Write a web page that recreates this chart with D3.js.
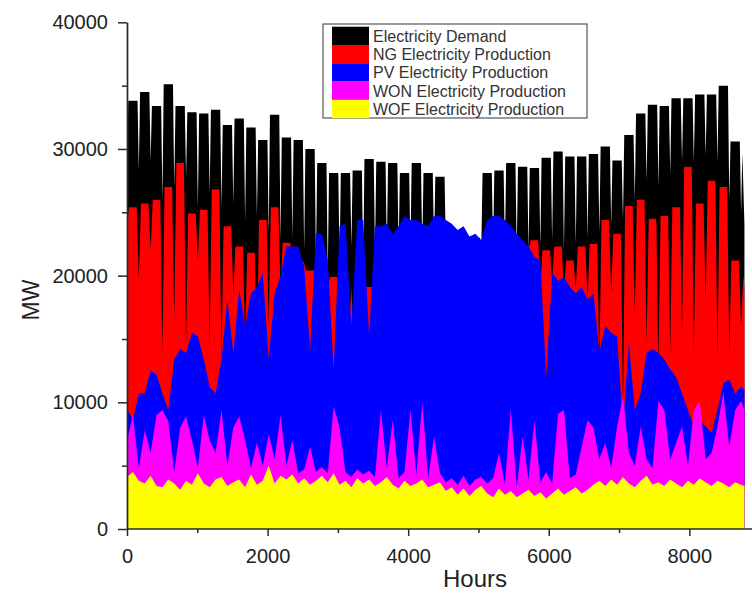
<!DOCTYPE html>
<html><head><meta charset="utf-8">
<script src="https://cdn.jsdelivr.net/npm/d3@7"></script>
<style>
body{margin:0;background:#fff}
svg{display:block}
text{font-family:"Liberation Sans",Arial,Helvetica,sans-serif}
</style>
</head><body>
<svg id="chart" width="752" height="593"></svg>
<script>
// ---- Data (MW) ----
const weekHours = 168;
const yearEnd = 8784;
// Electricity demand: weekly envelope peak and weekend trough at the start of each week
const demandPeak = [33800, 34500, 33400, 35100, 33400, 32900, 32800, 33100, 31900, 32400,
  31700, 30700, 32700, 30900, 30700, 30000, 28900, 28100, 28100, 28300,
  29200, 29000, 28900, 28100, 28900, 28100, 27800, 23000, 23000, 23000,
  28100, 28300, 28900, 28600, 28500, 29300, 29800, 29400, 29400, 29600,
  30200, 29100, 31100, 32800, 33500, 33400, 34000, 34000, 34300, 34300,
  35000, 30600, 29700];
const demandTrough = [27000, 28300, 29100, 26000, 27000, 27800, 25400, 26500, 25400, 25700,
  24400, 24700, 23300, 22800, 23000, 22000, 21200, 20200, 21200, 22300,
  20200, 21800, 22000, 22000, 22000, 22000, 22000, 22000, 22000, 22000,
  22000, 22000, 22000, 22000, 22000, 22300, 22800, 22000, 22500, 23000,
  23400, 24000, 24400, 26000, 27500, 27000, 28000, 29000, 29000, 29500,
  29000, 26000, 25000];
const demandEnd = 24000;

// NG production: weekly envelope high and the weekend dip at the start of each week
const ngWeekHigh = [25400, 25700, 26000, 27000, 28900, 24900, 25200, 26800, 23900, 22300,
  21800, 24400, 25400, 22600, 21200, 20400, 18000, 19900, 16000, 15000,
  19100, 13000, 14000, 12000, 11000, 11000, 12000, 11000, 11000, 11000,
  11000, 13000, 14000, 20000, 22800, 22000, 22300, 21200, 22300, 22500,
  24400, 23300, 25500, 26000, 24500, 24700, 25400, 28600, 25700, 27500,
  27000, 21200, 20000];
const ngWeekDip = [24000, 19700, 22000, 13900, 16500, 14700, 21200, 14400, 13400, 18600,
  14700, 13400, 16000, 18600, 21500, 21000, 19000, 19000, 17000, 19100,
  14000, 14000, 13000, 12000, 11000, 12000, 12000, 12000, 12000, 12000,
  12000, 12000, 13000, 16000, 22000, 19000, 19500, 18500, 19000, 18000,
  12800, 18600, 9400, 17000, 14700, 12800, 13900, 15500, 13900, 18100,
  13400, 13900, 16000];
const ngEnd = 19000;

// PV, WON, WOF production envelopes sampled every half week (84 h), last sample at year end
const sampleHours = d3.range(0, 8737, 84).concat([yearEnd]);
const pvProd = [9500, 8600, 10700, 10700, 12500, 12200, 10700, 9400, 13400, 14200, 13900, 15500, 15200, 13400, 11200, 10700, 13400, 18100, 13900, 18900, 16000, 18600, 19100, 20200, 13400, 18600, 20000,
  22300, 22300, 22300, 20700, 14100, 23300, 23300, 21200, 12500, 23900, 24100, 16000, 24400, 24400, 15200, 23900, 23900, 24100, 23300, 23900, 24700, 24400, 24400, 24100, 23900, 24700, 24700,
  24400, 24100, 23600, 23900, 23100, 23300, 22800, 24400, 24700, 24700, 24400, 23900, 23300, 22800, 22300, 21500, 21200, 12000, 20200, 19600, 19900, 19100, 18600, 19100, 18100, 18600,
  14000, 16000, 15500, 15200, 8100, 14700, 9400, 10700, 13900, 14200, 13900, 13400, 12600, 12000, 10700, 9400, 8100, 8600, 8100, 7600, 9400, 11500, 11800, 10700, 11200, 11000];
const wonProd = [7000, 9000, 4800, 7800, 6000, 9000, 9400, 8500, 4500, 8000, 8900, 7000, 4800, 9000, 7000, 6000, 9400, 5000, 8000, 8900, 7000, 4800, 6800, 5000, 7500, 5500, 9000,
  5000, 7000, 4400, 4700, 6500, 4500, 4900, 4400, 9700, 8000, 4500, 4100, 4700, 4300, 4600, 4100, 9400, 4800, 8600, 4000, 4500, 9400, 4300, 10000, 4000, 7300, 4400,
  3700, 4000, 3500, 4200, 3400, 3900, 4100, 3600, 4000, 6000, 3500, 9500, 3300, 7300, 3900, 8600, 3700, 4500, 3600, 9100, 9400, 4000, 4300, 6500, 8600, 8000,
  5500, 6800, 4800, 8100, 10500, 6000, 5000, 8100, 5500, 4800, 10100, 9400, 5500, 6800, 8100, 5000, 9400, 10100, 5500, 6000, 8100, 10800, 6500, 9400, 10100, 9400];
const wofProd = [4100, 4500, 3800, 3600, 4200, 3400, 3300, 3900, 3600, 3100, 3800, 3500, 4400, 3600, 3300, 3900, 4100, 3400, 3700, 3900, 3300, 4300, 3500, 3800, 5000, 3600, 4200,
  3900, 4300, 3600, 4000, 3500, 3800, 4200, 3700, 4400, 3500, 3800, 3300, 4000, 3600, 3900, 3400, 3700, 4100, 3500, 3200, 3800, 3400, 3600, 3900, 3300, 3500, 3700,
  3000, 3300, 2700, 3200, 2600, 3100, 3400, 2800, 2500, 3200, 2700, 3000, 2500, 2800, 3100, 2600, 2900, 2400, 2800, 3200, 2700, 3000, 3300, 2800, 3100, 3500,
  3800, 3400, 3900, 3500, 4100, 3600, 3300, 3800, 4200, 3500, 3700, 3400, 3900, 3600, 3300, 3800, 3500, 4000, 3700, 3400, 3800, 3600, 3300, 3700, 3500, 3400];

const seriesNames = ["Electricity Demand", "NG Electricity Production", "PV Electricity Production", "WON Electricity Production", "WOF Electricity Production"];
const seriesColors = ["#000000", "#ff0000", "#0000ff", "#ff00ff", "#ffff00"];
const xTickValues = [0, 2000, 4000, 6000, 8000];
const xMinorTicks = [1000, 3000, 5000, 7000];
const yTickValues = [0, 10000, 20000, 30000, 40000];
const yMinorTicks = [5000, 15000, 25000, 35000];

// ---- Build ----
const svg = d3.select("#chart");
const x = d3.scaleLinear().domain([0, 8870]).range([127, 750.5]);
const y = d3.scaleLinear().domain([0, 40000]).range([529, 22.3]);

// weekly series: dip at the week boundary, envelope held through the week
function weekly(high, dip, endVal, rise, fall) {
  const pts = [];
  high.forEach((h, k) => {
    const t0 = k * weekHours;
    pts.push([t0, dip[k]]);
    if (t0 + rise < yearEnd) pts.push([t0 + rise, h]);
    if (t0 + fall < yearEnd) pts.push([t0 + fall, h]);
  });
  pts.push([yearEnd, endVal]);
  return pts;
}
const demandPts = weekly(demandPeak, demandTrough, demandEnd, 18, 150);
const ngPts = weekly(ngWeekHigh, ngWeekDip, ngEnd, 30, 138);
const halfWeek = arr => sampleHours.map((h, i) => [h, arr[i]]);
const allSeries = [demandPts, ngPts, halfWeek(pvProd), halfWeek(wonProd), halfWeek(wofProd)];

const area = d3.area().x(d => x(d[0])).y0(y(0)).y1(d => y(d[1]));
svg.append("g").selectAll("path").data(allSeries).join("path")
  .attr("d", area)
  .attr("fill", (d, i) => seriesColors[i])
  .attr("stroke", "none");

// ---- Axes ----
const axisColor = "#2a2a2a";
const gx = svg.append("g").attr("transform", `translate(0,${y(0)})`)
  .call(d3.axisBottom(x).tickValues(xTickValues).tickFormat(d3.format("d")).tickSize(7).tickSizeOuter(0).tickPadding(13));
const gxm = svg.append("g").attr("transform", `translate(0,${y(0)})`)
  .call(d3.axisBottom(x).tickValues(xMinorTicks).tickFormat("").tickSize(4).tickSizeOuter(0));
const gy = svg.append("g").attr("transform", `translate(${x(0)},0)`)
  .call(d3.axisLeft(y).tickValues(yTickValues).tickFormat(d3.format("d")).tickSize(9).tickSizeOuter(0).tickPadding(10));
const gym = svg.append("g").attr("transform", `translate(${x(0)},0)`)
  .call(d3.axisLeft(y).tickValues(yMinorTicks).tickFormat("").tickSize(5).tickSizeOuter(0));
[gx, gxm, gy, gym].forEach(g => {
  g.selectAll("path.domain").attr("stroke", axisColor).attr("stroke-width", 1.7);
  g.selectAll(".tick line").attr("stroke", axisColor).attr("stroke-width", 1.5);
  g.selectAll(".tick text").attr("font-size", 20).attr("fill", "#222")
    .attr("font-family", '"Liberation Sans", Arial, sans-serif');
});
gxm.select("path.domain").remove();
gym.select("path.domain").remove();
gx.select("path.domain").attr("d", `M${x(0)},0H752`);

// axis titles
svg.append("text").attr("x", 475).attr("y", 587).attr("text-anchor", "middle")
  .attr("font-size", 24).attr("fill", "#222").text("Hours");
svg.append("text").attr("transform", "translate(39,300) rotate(-90)").attr("text-anchor", "middle")
  .attr("font-size", 23).attr("fill", "#222").text("MW");

// ---- Legend ----
const lg = svg.append("g");
lg.append("rect").attr("x", 323).attr("y", 24).attr("width", 264).attr("height", 94)
  .attr("fill", "#fff").attr("stroke", "#555").attr("stroke-width", 1.2);
const rowH = 18.3;
seriesNames.forEach((name, i) => {
  lg.append("rect").attr("x", 332).attr("y", 26.7 + i * rowH).attr("width", 37).attr("height", rowH)
    .attr("fill", seriesColors[i]);
  lg.append("text").attr("x", 373).attr("y", 41.7 + i * rowH).attr("font-size", 16)
    .attr("fill", "#333").text(name);
});
</script>
</body></html>
